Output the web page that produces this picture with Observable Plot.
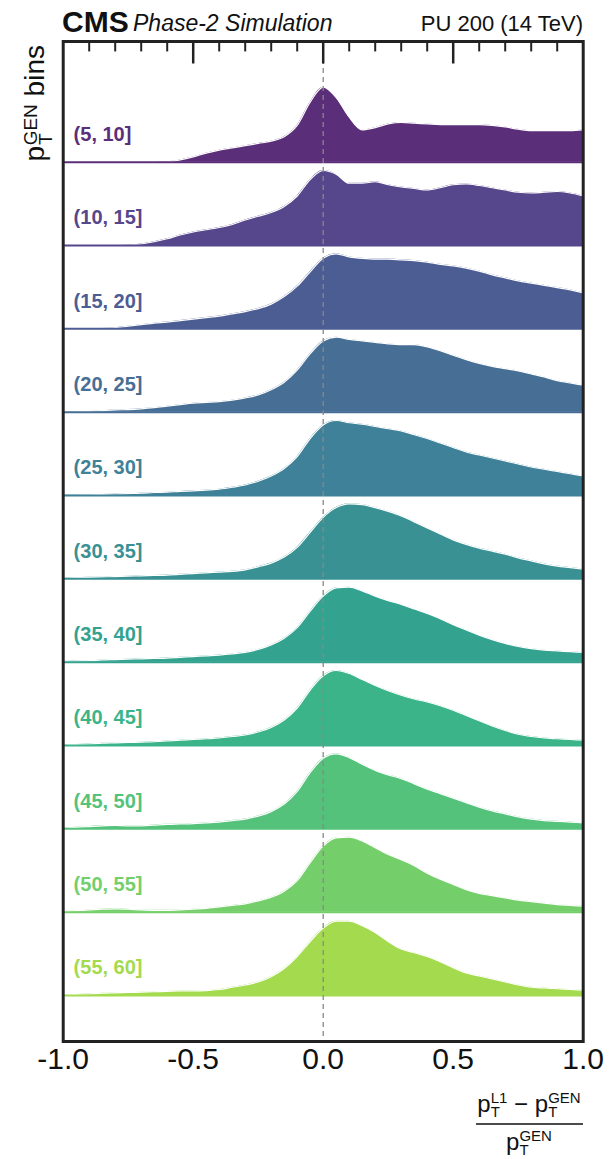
<!DOCTYPE html>
<html><head><meta charset="utf-8">
<script src="https://cdn.jsdelivr.net/npm/d3@7"></script>
<script src="https://cdn.jsdelivr.net/npm/@observablehq/plot@0.6"></script>
<style>body{margin:0;background:#fff;} #chart{width:610px;height:1159px;}</style>
</head><body><div id="chart"></div>
<script>
// x grid of the resolution variable (pT_L1 - pT_GEN)/pT_GEN
const xGrid = [-1,-0.95,-0.9,-0.85,-0.8,-0.75,-0.7,-0.65,-0.6,-0.55,-0.5,-0.45,-0.4,-0.35,-0.3,-0.25,-0.2,-0.15,-0.1,-0.05,0,0.05,0.1,0.15,0.2,0.25,0.3,0.35,0.4,0.45,0.5,0.55,0.6,0.65,0.7,0.75,0.8,0.85,0.9,0.95,1];
const binLabels = ["(5, 10]","(10, 15]","(15, 20]","(20, 25]","(25, 30]","(30, 35]","(35, 40]","(40, 45]","(45, 50]","(50, 55]","(55, 60]"];
const binColors = ["#5b2e79","#56468b","#4c5d94","#476e95","#3f8198","#399194","#33a28f","#3cb489","#54c27a","#74cf6b","#a3da4e"];
// normalized densities (peak = 1) per pT bin
const d5_10  = [0,0,0,0,0,0,0,0,0.005,0.03,0.07,0.12,0.16,0.19,0.22,0.25,0.28,0.34,0.49,0.8,1.0,0.86,0.6,0.43,0.46,0.51,0.53,0.52,0.51,0.50,0.50,0.50,0.50,0.49,0.47,0.44,0.42,0.42,0.42,0.42,0.43];
const d10_15 = [0,0,0,0,0,0.005,0.02,0.05,0.09,0.14,0.18,0.21,0.24,0.28,0.34,0.39,0.44,0.52,0.66,0.88,1.0,0.95,0.83,0.83,0.85,0.81,0.78,0.76,0.74,0.77,0.81,0.82,0.80,0.77,0.74,0.71,0.70,0.71,0.72,0.70,0.66];
const d15_20 = [0,0,0,0.005,0.015,0.035,0.055,0.075,0.09,0.11,0.13,0.15,0.17,0.20,0.23,0.27,0.33,0.43,0.57,0.76,0.94,1.0,0.96,0.94,0.93,0.93,0.92,0.91,0.89,0.86,0.84,0.81,0.77,0.72,0.68,0.64,0.61,0.58,0.55,0.52,0.48];
const d20_25 = [0,0.005,0.01,0.02,0.03,0.035,0.045,0.06,0.08,0.10,0.12,0.13,0.14,0.16,0.19,0.23,0.30,0.40,0.56,0.78,0.95,1.0,0.97,0.95,0.93,0.91,0.90,0.90,0.87,0.82,0.76,0.70,0.65,0.61,0.58,0.55,0.51,0.47,0.42,0.39,0.36];
const d25_30 = [0.003,0.006,0.01,0.015,0.02,0.025,0.03,0.04,0.045,0.055,0.062,0.07,0.085,0.11,0.14,0.19,0.26,0.36,0.52,0.76,0.94,1.0,0.97,0.95,0.92,0.89,0.86,0.81,0.76,0.70,0.64,0.58,0.54,0.50,0.46,0.42,0.38,0.35,0.32,0.29,0.26];
const d30_35 = [0.01,0.015,0.02,0.025,0.03,0.035,0.04,0.045,0.05,0.06,0.07,0.08,0.09,0.10,0.12,0.16,0.21,0.29,0.42,0.62,0.82,0.95,1.0,0.99,0.95,0.90,0.84,0.76,0.68,0.60,0.52,0.46,0.41,0.37,0.33,0.28,0.24,0.20,0.17,0.15,0.13];
const d35_40 = [0.01,0.015,0.02,0.03,0.035,0.04,0.045,0.05,0.055,0.065,0.075,0.085,0.095,0.11,0.13,0.17,0.23,0.32,0.46,0.68,0.88,0.99,1.0,0.95,0.88,0.82,0.77,0.71,0.65,0.58,0.50,0.43,0.36,0.30,0.25,0.21,0.18,0.16,0.15,0.14,0.13];
const d40_45 = [0.01,0.015,0.02,0.03,0.035,0.04,0.045,0.05,0.06,0.07,0.08,0.09,0.10,0.12,0.14,0.18,0.24,0.34,0.50,0.74,0.93,1.0,0.96,0.88,0.80,0.73,0.67,0.62,0.58,0.53,0.47,0.40,0.33,0.26,0.20,0.15,0.12,0.10,0.09,0.08,0.07];
const d45_50 = [0.01,0.02,0.03,0.04,0.045,0.04,0.04,0.05,0.06,0.065,0.07,0.08,0.09,0.11,0.13,0.17,0.23,0.33,0.50,0.75,0.94,1.0,0.95,0.86,0.78,0.72,0.67,0.60,0.53,0.47,0.41,0.35,0.29,0.24,0.20,0.16,0.13,0.11,0.10,0.09,0.08];
const d50_55 = [0.01,0.02,0.03,0.04,0.045,0.04,0.03,0.025,0.025,0.03,0.04,0.05,0.07,0.09,0.11,0.15,0.20,0.28,0.42,0.66,0.88,0.99,1.0,0.95,0.86,0.77,0.70,0.62,0.52,0.44,0.37,0.30,0.25,0.22,0.19,0.16,0.14,0.12,0.10,0.09,0.08];
const d55_60 = [0.01,0.015,0.02,0.03,0.035,0.04,0.045,0.05,0.055,0.06,0.06,0.065,0.08,0.11,0.14,0.18,0.25,0.36,0.52,0.72,0.90,0.99,0.99,0.93,0.84,0.72,0.62,0.57,0.52,0.45,0.37,0.30,0.26,0.22,0.18,0.14,0.11,0.10,0.09,0.08,0.07];
const densities = [d5_10,d10_15,d15_20,d20_25,d25_30,d30_35,d35_40,d40_45,d45_50,d50_55,d55_60];
const minorTicks = [-0.9,-0.8,-0.7,-0.6,-0.4,-0.3,-0.2,-0.1,0.1,0.2,0.3,0.4,0.6,0.7,0.8,0.9];
const majorTicks = [-0.5,0,0.5];
const xTickValues = [-1,-0.5,0,0.5,1];

const W = 610, H = 1159;
const yMin = -0.552, yMax = 11.448, peakScale = 0.9;
const nRows = densities.length;

const marks = [];
densities.forEach((h, i) => {
  const off = nRows - 1 - i;
  const data = xGrid.map((x, j) => ({x, y1: off, y2: off + h[j] * peakScale}));
  marks.push(Plot.areaY(data, {x: "x", y1: "y1", y2: "y2", fill: binColors[i], curve: "monotone-x"}));
  marks.push(Plot.lineY(data, {x: "x", y: "y2", stroke: "white", strokeWidth: 1.2, curve: "monotone-x"}));
  marks.push(Plot.ruleY([off], {stroke: binColors[i], strokeWidth: 2}));
});
const labelData = binLabels.map((t, i) => ({t, x: -0.96, y: nRows - 1 - i + 0.33, c: binColors[i]}));
marks.push(Plot.text(labelData, {x: "x", y: "y", text: "t", fill: "c", textAnchor: "start", fontSize: 20, fontWeight: "bold"}));
marks.push(Plot.ruleX([0], {stroke: "#888", strokeDasharray: "5,4", strokeWidth: 1.3}));
marks.push(Plot.ruleX(minorTicks, {y1: yMax, y2: yMax - 0.125, stroke: "#222", strokeWidth: 2}));
marks.push(Plot.ruleX(majorTicks, {y1: yMax, y2: yMax - 0.27, stroke: "#222", strokeWidth: 2.5}));
marks.push(Plot.axisX(xTickValues, {anchor: "bottom", tickSize: 0, tickPadding: 6, tickFormat: d => d.toFixed(1), fontSize: 30, fill: "#111", label: null}));
marks.push(Plot.frame({stroke: "#222", strokeWidth: 3}));

const plot = Plot.plot({
  width: W, height: H,
  marginTop: 41, marginBottom: 118, marginLeft: 62.7, marginRight: 27.3,
  x: {domain: [-1, 1]},
  y: {domain: [yMin, yMax], axis: null},
  color: {type: "identity"},
  style: {fontFamily: "'Liberation Sans', Arial, sans-serif", background: "#fff"},
  marks
});
document.getElementById("chart").appendChild(plot);

const svg = d3.select(plot);
// header
svg.append("text").attr("x", 62).attr("y", 32).attr("text-anchor", "start").attr("font-size", 30).attr("font-weight", "bold").attr("fill", "#111").text("CMS");
svg.append("text").attr("x", 133).attr("y", 31).attr("text-anchor", "start").attr("font-size", 23).attr("font-style", "italic").attr("fill", "#111").text("Phase-2 Simulation");
svg.append("text").attr("x", 583).attr("y", 31).attr("text-anchor", "end").attr("font-size", 22).attr("fill", "#111").text("PU 200 (14 TeV)");
// y label
const yl = svg.append("text").attr("transform", "translate(44,45) rotate(-90)").attr("text-anchor", "end").attr("font-size", 28).attr("fill", "#111");
yl.append("tspan").text("p");
yl.append("tspan").attr("font-size", 19).attr("dx", 1).attr("dy", 8).text("T");
yl.append("tspan").attr("font-size", 19).attr("dx", -12).attr("dy", -15).text("GEN");
yl.append("tspan").attr("dy", 7).text(" bins");
// x label (fraction)
function pT(sel, sup, fs, ss) {
  sel.append("tspan").attr("font-size", fs).text("p");
  sel.append("tspan").attr("font-size", ss).attr("dy", 5).text("T");
  sel.append("tspan").attr("font-size", ss).attr("dx", -ss * 0.611).attr("dy", -14).text(sup);
}
const num = svg.append("text").attr("x", 529).attr("y", 1112).attr("text-anchor", "middle").attr("fill", "#111");
pT(num, "L1", 24, 15);
num.append("tspan").attr("font-size", 24).attr("dy", 9).text(" \u2212 ");
pT(num, "GEN", 24, 15);
svg.append("line").attr("x1", 476).attr("x2", 583).attr("y1", 1124).attr("y2", 1124).attr("stroke", "#111").attr("stroke-width", 1.5);
const den = svg.append("text").attr("x", 529).attr("y", 1150).attr("text-anchor", "middle").attr("fill", "#111");
pT(den, "GEN", 24, 15);
</script>
</body></html>
